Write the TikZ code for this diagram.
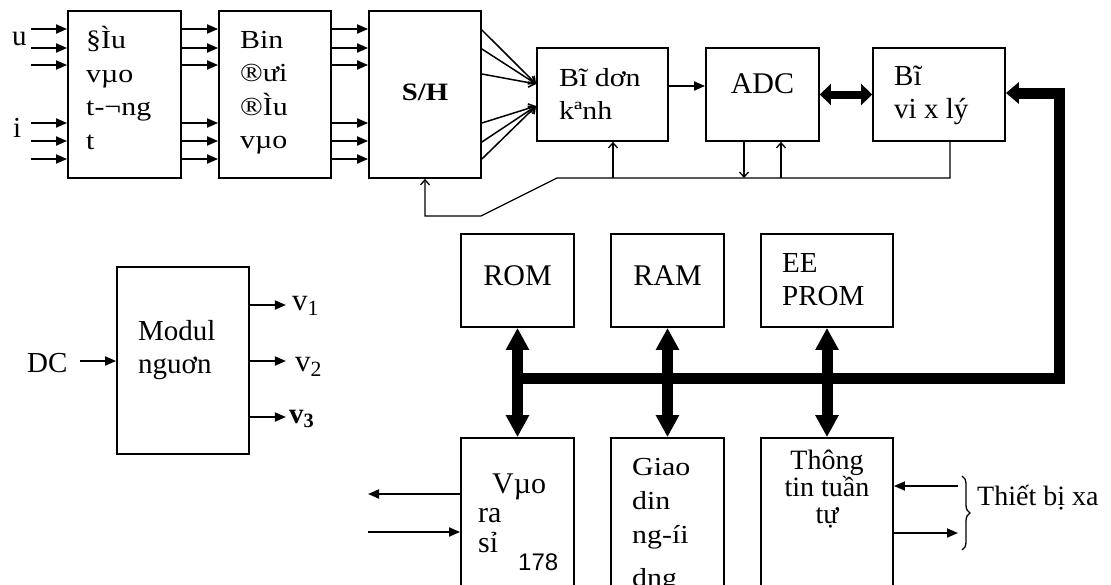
\documentclass[tikz,border=0pt]{standalone}
\usepackage{fontspec}
\setmainfont{Liberation Serif}
\newfontfamily\widefont{Liberation Serif}[FakeStretch=1.15]
\newfontfamily\arialfont{Liberation Sans}
\usetikzlibrary{arrows.meta, calc, decorations.pathreplacing}

\begin{document}
\begin{tikzpicture}[x=1pt, y=-1pt,
  box/.style={draw, line width=1.8pt, minimum width=113pt, minimum height=93pt, inner sep=0pt},
  txt/.style={inner sep=0pt, anchor=base west, align=left, font=\fontsize{29}{33}\selectfont},
  wtxt/.style={txt, font=\widefont\fontsize{26}{33.5}\selectfont},
  arr/.style={line width=1.8pt, -{Triangle[length=11pt,width=9pt]}},
  ctl/.style={line width=1.3pt, -{Straight Barb[length=5pt,width=9pt]}},
  cnv/.style={line width=1.5pt, -{Straight Barb[length=6pt,width=9pt]}},
  bus/.style={line width=11pt},
  dbl/.style={bus, {Triangle[length=22pt,width=22pt]}-{Triangle[length=22pt,width=22pt]}}
]
  \useasboundingbox (0,0) rectangle (1111,584);
  \clip (0,0) rectangle (1111,584);

  \node[box, minimum height=167pt] (vao) at (124.5,94.5) {};
  \node[box, minimum width=112pt, minimum height=167pt] (bien) at (275,94.5) {};
  \node[box, minimum width=112pt, minimum height=167pt] (sh) at (425,94.5) {};
  \node[box, minimum width=131pt] (donkenh) at (602.5,94.5) {};
  \node[box] (adc) at (762.5,94.5) {};
  \node[box, minimum width=132pt] (cpu) at (939,94.5) {};
  \node[box] (rom) at (517.5,280.5) {};
  \node[box] (ram) at (667.5,280.5) {};
  \node[box, minimum width=132pt] (eeprom) at (827,280.5) {};
  \node[box, minimum height=200pt] (io) at (517.5,538) {};
  \node[box, minimum height=200pt] (hmi) at (667.5,538) {};
  \node[box, minimum width=132pt, minimum height=200pt] (com) at (827,538) {};
  \node[box, minimum width=132pt, minimum height=187pt] (nguon) at (183,360.5) {};

  % multi-line labels are placed by the baseline of their last line
  \node[txt] (tu) at (12,45) {u};
  \node[txt] (ti) at (13,137) {i};
  \node[wtxt] (tvao) at (86,149) {§Ìu\\vµo\\t-¬ng\\t};
  \node[wtxt] (tbien) at (240,148.5) {Bin\\®ưi\\®Ìu\\vµo};
  \node[txt, anchor=base, font=\widefont\bfseries\fontsize{25}{30}\selectfont] (tsh) at (425,100) {S/H};
  \node[wtxt] (tdonkenh) at (559,119.5) {Bĩ dơn\\kªnh};
  \node[txt, anchor=base, font=\fontsize{30}{33}\selectfont] (tadc) at (762.5,93) {ADC};
  \node[txt] (tcpu) at (894,118) {Bĩ\\vi x lý};
  \node[txt, anchor=base, font=\fontsize{30}{33}\selectfont] (trom) at (517.5,285) {ROM};
  \node[txt, anchor=base, font=\fontsize{30}{33}\selectfont] (tram) at (667.5,285) {RAM};
  \node[txt] (teeprom) at (782,305) {EE\\PROM};
  \node[txt, font=\fontsize{30}{29.5}\selectfont] (tio) at (478,552) {\hspace*{14pt}Vµo\\ra\\sỉ};
  \node[txt, font=\arialfont\fontsize{24}{24}\selectfont] (t178) at (518,570) {178};
  \node[wtxt, font=\widefont\fontsize{26}{34}\selectfont] (thmi) at (632,586) {Giao\\din\\ng-íi\\[9pt]dng};
  \node[txt, anchor=base, align=center, font=\fontsize{28}{27}\selectfont] (tcom) at (827,523) {Thông\\tin tuần\\tự};
  \node[txt, font=\fontsize{28}{33}\selectfont] (txa) at (977,505) {Thiết bị xa};
  \node[txt] (tnguon) at (138,373) {Modul\\nguơn};
  \node[txt] (tdc) at (27,372) {DC};
  \node[txt, font=\fontsize{31}{33}\selectfont] (tv1) at (292,310) {v\textsubscript{1}};
  \node[txt, font=\fontsize{31}{33}\selectfont] (tv2) at (295,371) {v\textsubscript{2}};
  \node[txt, font=\bfseries\fontsize{29}{33}\selectfont] (tv3) at (289,423) {v\textsubscript{3}};

  \foreach \y in {29,48,65,123,141,159} {
    \draw[arr] ($(vao.west |- 0,\y)-(36,0)$) -- (vao.west |- 0,\y);
    \draw[arr] (vao.east |- 0,\y) -- (bien.west |- 0,\y);
    \draw[arr] (bien.east |- 0,\y) -- (sh.west |- 0,\y);
  }
  \foreach \y in {30,49,74}
    \draw[cnv] (sh.east |- 0,\y) -- (donkenh.west |- 0,84);
  \foreach \y in {123,142,159}
    \draw[cnv] (sh.east |- 0,\y) -- (donkenh.west |- 0,106);
  \draw[arr] (donkenh.east |- 0,86) -- (adc.west |- 0,86);
  \draw[line width=8pt, {Triangle[length=11pt,width=21pt]}-{Triangle[length=11pt,width=21pt]}] (adc) -- (cpu);

  \coordinate (k1) at (557,178);
  \coordinate (k2) at (481,216);
  \coordinate (k3) at (425,216);
  \draw[ctl] (cpu.south -| 950,0) |- (k1) -- (k2) -- (k3) -- (sh.south -| k3);
  \draw[ctl] ($(donkenh.south |- k1)+(10.5,0)$) -- ($(donkenh.south)+(10.5,0)$);
  \draw[ctl] ($(adc.south)+(-18.5,0)$) -- ($(adc.south |- k1)+(-18.5,0)$);
  \draw[ctl] ($(adc.south |- k1)+(18.5,0)$) -- ($(adc.south)+(18.5,0)$);

  \coordinate (busl) at (511.5,378);
  \coordinate (busr) at (1059,93);
  \draw[bus, line join=miter, -{Triangle[length=13pt,width=21pt]}] (busl) -| (busr) -- (cpu.east |- busr);
  \draw[dbl] (rom) -- (io);
  \draw[dbl] (ram) -- (hmi);
  \draw[dbl] (eeprom) -- (com);

  \coordinate (ioa) at (368,494);
  \coordinate (iob) at (368,532);
  \draw[arr] (io.west |- ioa) -- (ioa);
  \draw[arr] (iob) -- (io.west |- iob);

  \coordinate (coma) at (958,486);
  \coordinate (comb) at (958,533);
  \draw[arr] (coma) -- (com.east |- coma);
  \draw[arr] (com.east |- comb) -- (comb);
  \draw[line width=1.3pt, decorate, decoration={brace, amplitude=8pt}] (962,476) -- (962,550);

  \coordinate (dcin) at (80,361);
  \draw[arr] (dcin) -- (nguon.west |- dcin);
  \foreach \y/\n in {305/1,361/2,417/3} {
    \coordinate (out\n) at ($(nguon.east |- 0,\y)+(36,0)$);
    \draw[arr] (nguon.east |- out\n) -- (out\n);
  }
\end{tikzpicture}
\end{document}
